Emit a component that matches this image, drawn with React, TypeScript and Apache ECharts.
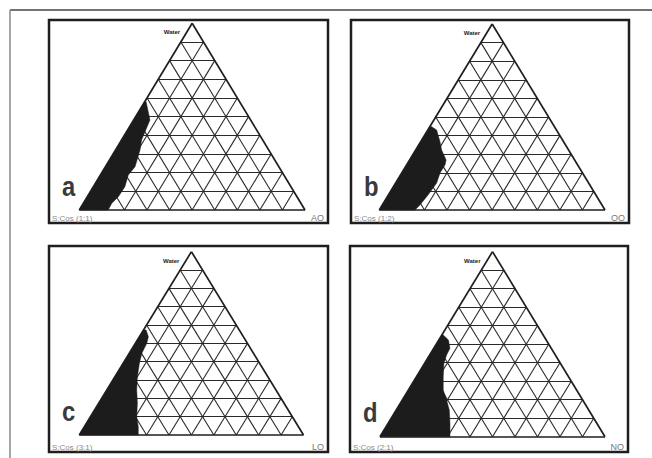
import React, { useEffect, useRef } from 'react';
import * as echarts from 'echarts';

// Panel texts
const panelLetters = ['a', 'b', 'c', 'd'];
const mixLabels = ['S:Cos (1:1)', 'S:Cos (1:2)', 'S:Cos (3:1)', 'S:Cos (2:1)'];
const oilLabels = ['AO', 'OO', 'LO', 'NO'];
const apexLabel = 'Water';

// Ternary grid fractions (10 divisions)
const gridFractions = [0.1, 0.2, 0.3, 0.4, 0.5, 0.6, 0.7, 0.8, 0.9];

// Microemulsion region boundaries, [x, y] in ternary-plane units
// (y = water fraction, x = oil fraction + water/2), from top down to base
const regionA = [
  [0.296, 0.58], [0.313, 0.482], [0.276, 0.375], [0.269, 0.321], [0.247, 0.232],
  [0.217, 0.187], [0.202, 0.125], [0.173, 0.071], [0.144, 0.036], [0.128, 0],
];
const regionB = [
  [0.232, 0.448], [0.254, 0.43], [0.269, 0.367], [0.276, 0.323], [0.296, 0.269],
  [0.291, 0.242], [0.269, 0.199], [0.254, 0.145], [0.216, 0.081], [0.18, 0.027], [0.158, 0],
];
const regionC = [
  [0.298, 0.573], [0.308, 0.536], [0.301, 0.5], [0.279, 0.446], [0.268, 0.391],
  [0.259, 0.318], [0.256, 0.245], [0.259, 0.173], [0.256, 0.1], [0.263, 0.045], [0.263, 0],
];
const regionD = [
  [0.281, 0.55], [0.304, 0.523], [0.311, 0.478], [0.296, 0.442], [0.284, 0.397],
  [0.281, 0.324], [0.281, 0.252], [0.296, 0.198], [0.308, 0.144], [0.311, 0.072], [0.311, 0],
];
const regions = [regionA, regionB, regionC, regionD];

// Layout: box [left, top, right, bottom], triangle [baseLeft, baseRight, baseY, apexY]
const layouts = [
  { box: [49, 20, 328, 223], tri: [79.3, 305, 210, 23.3] },
  { box: [351, 20, 629, 223], tri: [379.3, 605, 210, 24] },
  { box: [49, 246, 328, 452], tri: [79.3, 303.5, 435, 251.7] },
  { box: [350, 246, 628, 452], tri: [380, 605, 436.7, 251.7] },
];

export default function App() {
  const ref = useRef<HTMLDivElement>(null);
  useEffect(() => {
    const chart = echarts.init(ref.current!, null, { renderer: 'svg' });
    const grid: any[] = [];
    const xAxis: any[] = [];
    const yAxis: any[] = [];
    const series: any[] = [];
    const graphic: any[] = [
      { type: 'line', shape: { x1: 10, y1: 10, x2: 652, y2: 10 }, style: { stroke: '#444', lineWidth: 1.5 } },
      { type: 'line', shape: { x1: 10, y1: 10, x2: 10, y2: 458 }, style: { stroke: '#8a8a8a', lineWidth: 1.5 } },
    ];

    const gridLines: number[][][] = [];
    gridFractions.forEach((k) => {
      gridLines.push([[k / 2, k], [1 - k / 2, k]]);
      gridLines.push([[k, 0], [k + (1 - k) / 2, 1 - k]]);
      gridLines.push([[1 - k, 0], [(1 - k) / 2, 1 - k]]);
    });
    const edges = [
      [[0, 0], [1, 0]],
      [[0, 0], [0.5, 1]],
      [[1, 0], [0.5, 1]],
    ];

    layouts.forEach((L, i) => {
      const [bl, bt, br, bb] = L.box;
      const [tl, tr, tb, ta] = L.tri;
      const w = tr - tl;
      const h = tb - ta;
      grid.push({
        left: bl, top: bt, width: br - bl, height: bb - bt,
        show: true, borderColor: '#1e1e1e', borderWidth: 2.5, backgroundColor: '#fff',
      });
      xAxis.push({ gridIndex: i, type: 'value', min: -(tl - bl) / w, max: (br - tl) / w, show: false });
      yAxis.push({ gridIndex: i, type: 'value', min: -(bb - tb) / h, max: (tb - bt) / h, show: false });

      series.push({
        type: 'lines', coordinateSystem: 'cartesian2d', xAxisIndex: i, yAxisIndex: i,
        silent: true, z: 2,
        lineStyle: { color: '#2a2a2a', width: 1.1, opacity: 1 },
        data: gridLines.map((c) => ({ coords: c })),
      });
      const reg = regions[i];
      const top = reg[0];
      const pts = [[0, 0], [top[1] / 2, top[1]], ...reg];
      series.push({
        type: 'custom', xAxisIndex: i, yAxisIndex: i, z: 3, silent: true, clip: false,
        data: [0],
        renderItem: (_p: any, api: any) => ({
          type: 'polygon',
          shape: { points: pts.map((p) => api.coord(p)) },
          style: { fill: '#1c1c1c', stroke: '#1c1c1c', lineWidth: 0.5 },
        }),
      });
      series.push({
        type: 'lines', coordinateSystem: 'cartesian2d', xAxisIndex: i, yAxisIndex: i,
        silent: true, z: 4,
        lineStyle: { color: '#1e1e1e', width: 1.7, opacity: 1 },
        data: edges.map((c) => ({ coords: c })),
      });

      const apexX = (tl + tr) / 2;
      graphic.push({
        type: 'text', x: apexX - 12, y: ta + 9, z: 10,
        style: { text: apexLabel, fontSize: 6, fontWeight: 'bold', fill: '#222', align: 'right', verticalAlign: 'middle', fontFamily: 'Liberation Sans, Arial, sans-serif' },
      });
      graphic.push({
        type: 'text', x: bl + 3, y: bb - 5, z: 10,
        style: { text: mixLabels[i], fontSize: 8, fill: '#8a8a8a', align: 'left', verticalAlign: 'middle', fontFamily: 'Liberation Sans, Arial, sans-serif' },
      });
      graphic.push({
        type: 'text', x: br - 4, y: bb - 5, z: 10,
        style: { text: oilLabels[i], fontSize: 9, fill: '#777', align: 'right', verticalAlign: 'middle', fontFamily: 'Liberation Sans, Arial, sans-serif' },
      });
      graphic.push({
        type: 'text', x: bl + 13, y: tb - 24, z: 10, scaleX: 0.85,
        style: { text: panelLetters[i], fontSize: 28, fontWeight: 'bold', fill: '#3a3a3a', align: 'left', verticalAlign: 'middle', fontFamily: 'Liberation Sans, Arial, sans-serif' },
      });
    });

    chart.setOption({
      animation: false,
      backgroundColor: '#fff',
      grid, xAxis, yAxis, series, graphic,
    });
    return () => chart.dispose();
  }, []);
  return <div ref={ref} style={{ position: 'fixed', left: 0, top: 0, width: 652, height: 458 }} />;
}
